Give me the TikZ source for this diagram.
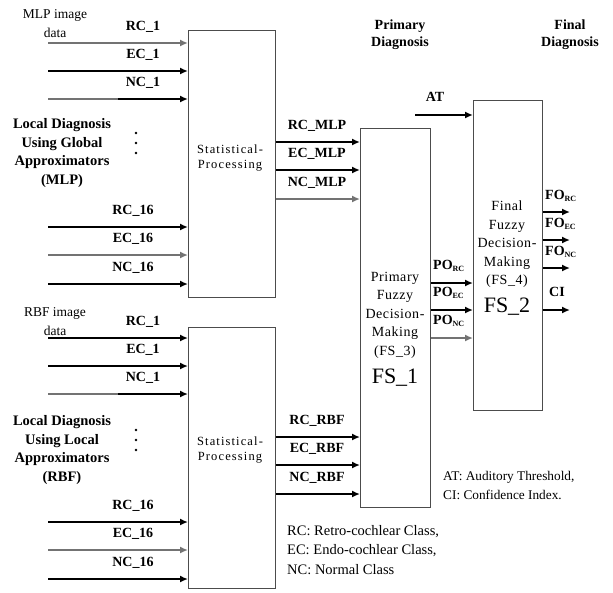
\documentclass[tikz,border=0pt]{standalone}
\usepackage{fontspec}
\setmainfont{Liberation Serif}
\usetikzlibrary{arrows.meta}
\newcommand{\sbx}[1]{{\fontsize{8}{8}\selectfont\raisebox{-2.5pt}{#1}}}
\begin{document}
\begin{tikzpicture}[x=1pt,y=-1pt,
  box/.style={draw=black!70, line width=1.3pt, inner sep=0pt, anchor=north west},
  sig/.style={line width=1.7pt, -{Latex[length=8pt,width=7pt]}},
  gsig/.style={sig, draw=black!55},
  lab/.style={font=\fontsize{14}{17}\selectfont\bfseries, inner sep=0pt},
  txt/.style={font=\fontsize{14}{18.5}\selectfont\addfontfeature{LetterSpace=4}, inner sep=0pt, align=center},
  small/.style={font=\fontsize{12.5}{14.5}\selectfont\addfontfeature{LetterSpace=9}, inner sep=0pt, align=center},
  leg/.style={font=\fontsize{14}{18}\selectfont, inner sep=0pt, anchor=west},
  dot/.style={circle, fill=black, inner sep=0pt, minimum size=2.6pt},
]
\useasboundingbox (0,0) rectangle (613,592);

% boxes
\node[box, minimum width=87pt, minimum height=267pt] (sp1) at (188,30) {};
\node[box, minimum width=87pt, minimum height=261pt] (sp2) at (188,327) {};
\node[box, minimum width=70pt, minimum height=379pt] (fs1) at (360,128) {};
\node[box, minimum width=69pt, minimum height=310pt] (fs2) at (473,100) {};

% box texts
\node[small] (sp1t) at (230,158) {Statistical-\\Processing};
\node[small] (sp2t) at (230,450) {Statistical-\\Processing};
\node[txt, anchor=north] (fs1t) at (395,272) {Primary\\Fuzzy\\Decision-\\Making\\(FS\_3)};
\node[font=\fontsize{22}{22}\selectfont, inner sep=0pt] (fs1n) at (395,378) {FS\_1};
\node[txt, anchor=north] (fs2t) at (507,201) {Final\\Fuzzy\\Decision-\\Making\\(FS\_4)};
\node[font=\fontsize{22}{22}\selectfont, inner sep=0pt] (fs2n) at (507,307) {FS\_2};

% headers
\node[lab, align=center] (h1) at (400,35) {Primary\\Diagnosis};
\node[lab, align=center] (h2) at (570,35) {Final\\Diagnosis};

% left group texts
\node[txt, align=center, font=\fontsize{13.5}{19}\selectfont] (mlpd) at (55,24) {MLP image\\data};
\node[txt, align=center, font=\fontsize{13.5}{19}\selectfont] (rbfd) at (55,322) {RBF image\\data};
\node[lab, align=center, font=\fontsize{14.5}{18.5}\selectfont\bfseries] (ldg) at (62,153) {Local Diagnosis\\Using Global\\Approximators\\(MLP)};
\node[lab, align=center, font=\fontsize{14.5}{18.5}\selectfont\bfseries] (ldl) at (62,450) {Local Diagnosis\\Using Local\\Approximators\\(RBF)};
\foreach \y [count=\i] in {133,143,153,430,440,450} {\node[dot] (d\i) at (136,\y) {};}

% inputs
\foreach \y/\t/\xc/\st [count=\i] in {43/RC\_1/143/gsig, 71/EC\_1/143/sig, 99/NC\_1/143/sig, 227/RC\_16/133/sig, 255/EC\_16/133/gsig, 284/NC\_16/133/sig} {
  \coordinate (a\i) at (48,\y);
  \draw[\st] (a\i) -- (a\i -| sp1.west);
  \node[lab] (la\i) at (\xc,\y-16) {\t};
}
\foreach \y/\t/\xc/\st [count=\i] in {338/RC\_1/143/sig, 366/EC\_1/143/sig, 394/NC\_1/143/sig, 522/RC\_16/133/sig, 550/EC\_16/133/gsig, 579/NC\_16/133/sig} {
  \coordinate (b\i) at (48,\y);
  \draw[\st] (b\i) -- (b\i -| sp2.west);
  \node[lab] (lb\i) at (\xc,\y-16) {\t};
}
% grey start segments of NC_1
\draw[line width=1.7pt, draw=black!55] (a3) -- ++(70,0);
\draw[line width=1.7pt, draw=black!55] (b3) -- ++(70,0);

% stat outputs
\foreach \y/\t/\st [count=\i] in {142/RC\_MLP/sig, 170/EC\_MLP/sig, 199/NC\_MLP/gsig} {
  \coordinate (c\i) at (275,\y);
  \draw[\st] (c\i -| sp1.east) -- (c\i -| fs1.west);
  \node[lab] (lc\i) at (317,\y-16) {\t};
}
\foreach \y/\t/\st [count=\i] in {437/RC\_RBF/sig, 465/EC\_RBF/sig, 494/NC\_RBF/sig} {
  \coordinate (e\i) at (275,\y);
  \draw[\st] (e\i -| sp2.east) -- (e\i -| fs1.west);
  \node[lab] (le\i) at (317,\y-16) {\t};
}

% PO
\foreach \y/\t/\st [count=\i] in {283/RC/sig, 310/EC/sig, 338/NC/gsig} {
  \coordinate (p\i) at (430,\y);
  \draw[\st] (p\i -| fs1.east) -- (p\i -| fs2.west);
  \node[lab, anchor=west] (lp\i) at (433,\y-17) {PO\sbx{\t}};
}

% AT
\coordinate (at) at (415,115);
\draw[sig] (at) -- (at -| fs2.west);
\node[lab] (lat) at (435,97) {AT};

% FO and CI
\foreach \y/\t [count=\i] in {212/RC, 240/EC, 268/NC} {
  \coordinate (f\i) at (570,\y);
  \draw[sig] (f\i -| fs2.east) -- (f\i);
  \node[lab, anchor=west] (lf\i) at (545,\y-16) {FO\sbx{\t}};
}
\coordinate (ci) at (570,310);
\draw[sig] (ci -| fs2.east) -- (ci);
\node[lab] (lci) at (557,292) {CI};

% legends
\node[leg, font=\fontsize{13.3}{18}\selectfont] (lg1) at (443,477) {AT: Auditory Threshold,};
\node[leg, font=\fontsize{13.3}{18}\selectfont] (lg2) at (443,495) {CI: Confidence Index.};
\node[leg, font=\fontsize{14.5}{18}\selectfont] (lg3) at (287,532) {RC: Retro-cochlear Class,};
\node[leg, font=\fontsize{14.5}{18}\selectfont] (lg4) at (287,551) {EC: Endo-cochlear Class,};
\node[leg, font=\fontsize{14.5}{18}\selectfont] (lg5) at (287,570) {NC: Normal Class};
\end{tikzpicture}
\end{document}
